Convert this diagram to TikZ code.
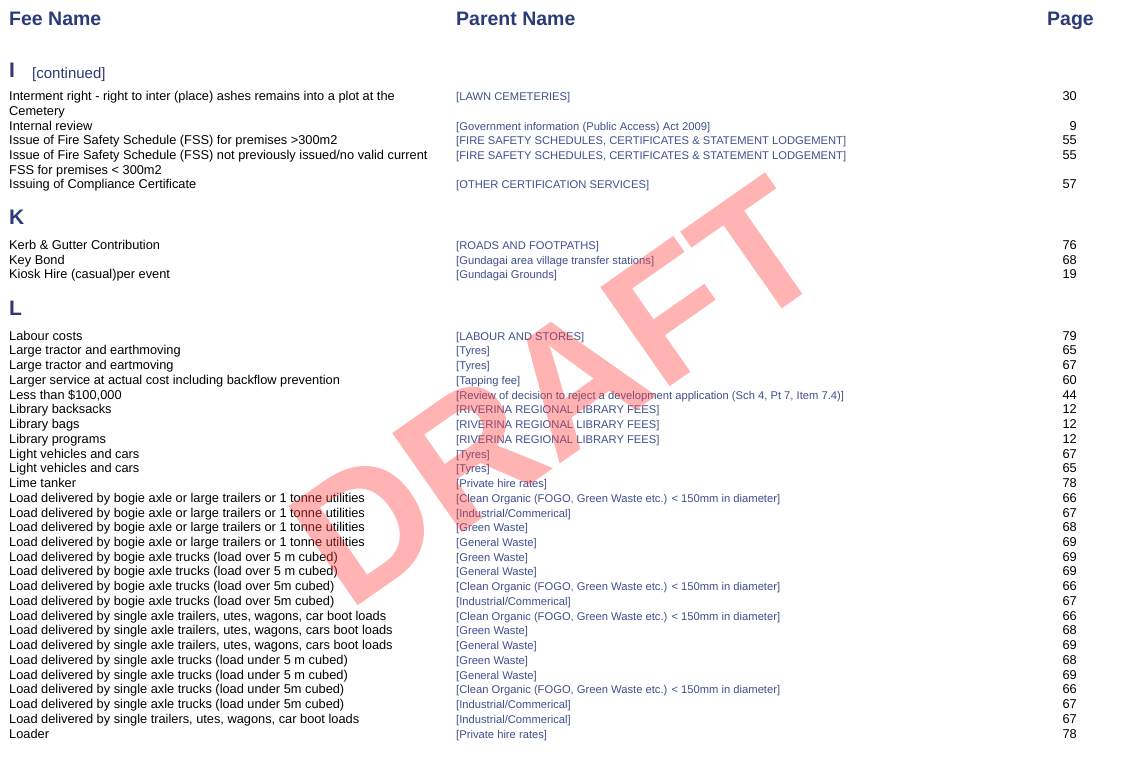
\documentclass[tikz,border=0pt]{standalone}
\usepackage{fontspec}
\setmainfont{Liberation Sans}
\definecolor{hdr}{HTML}{2B3A78}
\definecolor{par}{HTML}{3E4F8E}
\definecolor{wm}{HTML}{FF4040}
\newcommand{\feerow}[4]{%
  \node[fee] at (9,#1) {#2};
  \node[parent] at (456,#1) {#3};
  \node[pg] at (1077,#1) {#4};}
\begin{document}
\begin{tikzpicture}[x=1pt,y=-1pt,
  fee/.style={anchor=mid west,inner sep=0pt,font=\fontsize{12.8}{14}\selectfont},
  parent/.style={anchor=mid west,inner sep=0pt,text=par,font=\fontsize{11.2}{13}\selectfont},
  pg/.style={anchor=mid east,inner sep=0pt,font=\fontsize{12.8}{14}\selectfont},
  head/.style={inner sep=0pt,text=hdr,font=\fontsize{19.5}{22}\selectfont\bfseries},
  letter/.style={anchor=mid west,inner sep=0pt,text=hdr,font=\fontsize{21}{24}\selectfont\bfseries}]
\useasboundingbox (0,0) rectangle (1134,782);
\node[head,anchor=mid west] (h1) at (9,23) {Fee Name};
\node[head,anchor=mid west] (h2) at (456,23) {Parent Name};
\node[head,anchor=mid east] (h3) at (1094,23) {Page};
\node[letter] (li) at (9,75) {I};
\node[anchor=mid west,inner sep=0pt,text=hdr,font=\fontsize{15}{18}\selectfont] (lic) at (32,76) {[continued]};
\feerow{98}{Interment right - right to inter (place) ashes remains into a plot at the}{[LAWN CEMETERIES]}{30}
\node[fee] at (9,113) {Cemetery};
\feerow{127.5}{Internal review}{[Government information (Public Access) Act 2009]}{9}
\feerow{142}{Issue of Fire Safety Schedule (FSS) for premises >300m2}{[FIRE SAFETY SCHEDULES, CERTIFICATES \& STATEMENT LODGEMENT]}{55}
\feerow{157}{Issue of Fire Safety Schedule (FSS) not previously issued/no valid current}{[FIRE SAFETY SCHEDULES, CERTIFICATES \& STATEMENT LODGEMENT]}{55}
\node[fee] at (9,171.5) {FSS for premises < 300m2};
\feerow{186}{Issuing of Compliance Certificate}{[OTHER CERTIFICATION SERVICES]}{57}
\node[letter] (lk) at (9,222) {K};
\feerow{246.5}{Kerb \& Gutter Contribution}{[ROADS AND FOOTPATHS]}{76}
\feerow{261.5}{Key Bond}{[Gundagai area village transfer stations]}{68}
\feerow{276}{Kiosk Hire (casual)per event}{[Gundagai Grounds]}{19}
\node[letter] (ll) at (9,313) {L};
\def\s{14.74}
\feerow{337.5+0*\s}{Labour costs}{[LABOUR AND STORES]}{79}
\feerow{337.5+1*\s}{Large tractor and earthmoving}{[Tyres]}{65}
\feerow{337.5+2*\s}{Large tractor and eartmoving}{[Tyres]}{67}
\feerow{337.5+3*\s}{Larger service at actual cost including backflow prevention}{[Tapping fee]}{60}
\feerow{337.5+4*\s}{Less than \$100,000}{[Review of decision to reject a development application (Sch 4, Pt 7, Item 7.4)]}{44}
\feerow{337.5+5*\s}{Library backsacks}{[RIVERINA REGIONAL LIBRARY FEES]}{12}
\feerow{337.5+6*\s}{Library bags}{[RIVERINA REGIONAL LIBRARY FEES]}{12}
\feerow{337.5+7*\s}{Library programs}{[RIVERINA REGIONAL LIBRARY FEES]}{12}
\feerow{337.5+8*\s}{Light vehicles and cars}{[Tyres]}{67}
\feerow{337.5+9*\s}{Light vehicles and cars}{[Tyres]}{65}
\feerow{337.5+10*\s}{Lime tanker}{[Private hire rates]}{78}
\feerow{337.5+11*\s}{Load delivered by bogie axle or large trailers or 1 tonne utilities}{[Clean Organic (FOGO, Green Waste etc.) < 150mm in diameter]}{66}
\feerow{337.5+12*\s}{Load delivered by bogie axle or large trailers or 1 tonne utilities}{[Industrial/Commerical]}{67}
\feerow{337.5+13*\s}{Load delivered by bogie axle or large trailers or 1 tonne utilities}{[Green Waste]}{68}
\feerow{337.5+14*\s}{Load delivered by bogie axle or large trailers or 1 tonne utilities}{[General Waste]}{69}
\feerow{337.5+15*\s}{Load delivered by bogie axle trucks (load over 5 m cubed)}{[Green Waste]}{69}
\feerow{337.5+16*\s}{Load delivered by bogie axle trucks (load over 5 m cubed)}{[General Waste]}{69}
\feerow{337.5+17*\s}{Load delivered by bogie axle trucks (load over 5m cubed)}{[Clean Organic (FOGO, Green Waste etc.) < 150mm in diameter]}{66}
\feerow{337.5+18*\s}{Load delivered by bogie axle trucks (load over 5m cubed)}{[Industrial/Commerical]}{67}
\feerow{337.5+19*\s}{Load delivered by single axle trailers, utes, wagons, car boot loads}{[Clean Organic (FOGO, Green Waste etc.) < 150mm in diameter]}{66}
\feerow{337.5+20*\s}{Load delivered by single axle trailers, utes, wagons, cars boot loads}{[Green Waste]}{68}
\feerow{337.5+21*\s}{Load delivered by single axle trailers, utes, wagons, cars boot loads}{[General Waste]}{69}
\feerow{337.5+22*\s}{Load delivered by single axle trucks (load under 5 m cubed)}{[Green Waste]}{68}
\feerow{337.5+23*\s}{Load delivered by single axle trucks (load under 5 m cubed)}{[General Waste]}{69}
\feerow{337.5+24*\s}{Load delivered by single axle trucks (load under 5m cubed)}{[Clean Organic (FOGO, Green Waste etc.) < 150mm in diameter]}{66}
\feerow{337.5+25*\s}{Load delivered by single axle trucks (load under 5m cubed)}{[Industrial/Commerical]}{67}
\feerow{337.5+26*\s}{Load delivered by single trailers, utes, wagons, car boot loads}{[Industrial/Commerical]}{67}
\feerow{337.5+27*\s}{Loader}{[Private hire rates]}{78}
\node[inner sep=0pt,text=wm,opacity=0.4,rotate=35,font=\fontsize{176}{190}\selectfont\bfseries] (wm) at (558,392) {DRAFT};
\end{tikzpicture}
\end{document}
